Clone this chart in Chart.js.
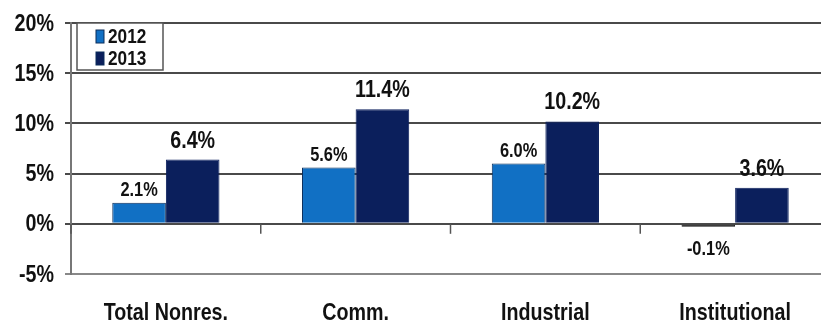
<!DOCTYPE html>
<html lang="en">
<head>
  <meta charset="UTF-8" />
  <title>Nonresidential Construction Growth</title>
  <script src="https://cdn.jsdelivr.net/npm/chart.js"></script>
  <style>
    html, body { margin: 0; padding: 0; background: #fff; overflow: hidden; }
    #wrap { width: 840px; height: 325px; }
  </style>
</head>
<body>
  <div id="wrap"><canvas id="growthChart" width="840" height="325"></canvas></div>

  <script>
    const categories = ["Total Nonres.", "Comm.", "Industrial", "Institutional"];
    const seriesNames = ["2012", "2013"];
    const values2012 = [2.1, 5.6, 6.0, -0.1];
    const values2013 = [6.4, 11.4, 10.2, 3.6];
    const yTicks = [-5, 0, 5, 10, 15, 20];

    const FONT = "'Liberation Sans', Arial, sans-serif";
    const LIGHT = "#1170c4";
    const NAVY = "#0b1f5c";
    const TEXT = "#111";

    // no narrow face installed, so squeeze the regular bold one
    function narrowText(ctx, txt, x, y, size, align, baseline) {
      ctx.save();
      ctx.font = "bold " + size + "px " + FONT;
      ctx.fillStyle = TEXT;
      ctx.textAlign = align;
      ctx.textBaseline = baseline;
      ctx.translate(x, y);
      ctx.scale(0.82, 1);
      ctx.fillText(txt, 0, 0);
      ctx.restore();
    }

    // axis labels for both scales
    const axisLabels = {
      id: "axisLabels",
      afterDraw(chart) {
        const x = chart.scales.x, y = chart.scales.y;
        y.ticks.forEach(t => {
          narrowText(chart.ctx, t.value + "%", 54, y.getPixelForValue(t.value) + 1, 24, "right", "middle");
        });
        categories.forEach((c, i) => {
          narrowText(chart.ctx, c, x.getPixelForValue(i), 320, 24, "center", "alphabetic");
        });
      }
    };

    // value labels above (or below, when negative) each bar
    const valueLabels = {
      id: "valueLabels",
      afterDatasetsDraw(chart) {
        chart.data.datasets.forEach((ds, di) => {
          const meta = chart.getDatasetMeta(di);
          const size = di === 0 ? 20 : 24;
          const gap = di === 0 ? 7 : 12;
          meta.data.forEach((bar, i) => {
            const v = ds.data[i];
            const txt = v.toFixed(1) + "%";
            if (v >= 0) {
              narrowText(chart.ctx, txt, bar.x, bar.y - gap, size, "center", "alphabetic");
            } else {
              narrowText(chart.ctx, txt, bar.x, bar.base + 15, size, "center", "top");
            }
          });
        });
      }
    };

    // small tick marks on the zero line between categories
    const zeroTicks = {
      id: "zeroTicks",
      afterDraw(chart) {
        const x = chart.scales.x, y = chart.scales.y;
        const y0 = y.getPixelForValue(0);
        const ctx = chart.ctx;
        ctx.save();
        ctx.strokeStyle = "#555";
        ctx.lineWidth = 1.5;
        for (let i = 0; i < categories.length; i++) {
          const px = i === 0 ? chart.chartArea.left : (x.getPixelForValue(i - 1) + x.getPixelForValue(i)) / 2;
          ctx.beginPath();
          ctx.moveTo(px, y0);
          ctx.lineTo(px, y0 + 10);
          ctx.stroke();
        }
        ctx.restore();
      }
    };

    // boxed legend in the upper left corner of the plot
    const boxLegend = {
      id: "boxLegend",
      afterDraw(chart) {
        const ctx = chart.ctx;
        const left = chart.chartArea.left + 6, top = chart.chartArea.top;
        ctx.save();
        ctx.fillStyle = "#fff";
        ctx.fillRect(left, top, 86, 47);
        ctx.strokeStyle = "#555";
        ctx.lineWidth = 1.5;
        ctx.strokeRect(left, top, 86, 47);
        const colors = [LIGHT, NAVY];
        seriesNames.forEach((name, i) => {
          const cy = top + 13 + i * 22;
          ctx.fillStyle = colors[i];
          ctx.fillRect(left + 19, cy - 6, 8, 13);
          ctx.strokeStyle = "#0b2c5a";
          ctx.lineWidth = 1;
          ctx.strokeRect(left + 19, cy - 6, 8, 13);
          narrowText(ctx, name, left + 31, cy + 1, 21, "left", "middle");
        });
        ctx.restore();
      }
    };

    new Chart(document.getElementById("growthChart"), {
      type: "bar",
      data: {
        labels: categories,
        datasets: [
          {
            label: seriesNames[0],
            data: values2012,
            backgroundColor: c => c.raw < 0 ? "#111" : LIGHT,
            borderColor: c => c.raw < 0 ? "#111" : "#0b2c5a",
            borderWidth: 1,
            minBarLength: 3,
            categoryPercentage: 0.565,
            barPercentage: 1
          },
          { label: seriesNames[1], data: values2013, backgroundColor: NAVY, borderColor: NAVY, borderWidth: 1, categoryPercentage: 0.565, barPercentage: 1 }
        ]
      },
      options: {
        responsive: false,
        animation: false,
        layout: { padding: { top: 23, right: 10, bottom: 0, left: 0 } },
        plugins: { legend: { display: false }, tooltip: { enabled: false } },
        scales: {
          x: {
            grid: { display: false },
            border: { display: false },
            ticks: { display: false },
            afterFit: s => { s.height = 51; }
          },
          y: {
            min: -5,
            max: 20,
            afterBuildTicks: s => { s.ticks = yTicks.map(v => ({ value: v })); },
            grid: {
              color: c => c.tick && c.tick.value === -5 ? "#888" : "#4a4a4a",
              lineWidth: 2,
              tickLength: 6
            },
            border: { color: "#777", width: 2 },
            ticks: { display: false },
            afterFit: s => { s.width = 71; }
          }
        }
      },
      plugins: [axisLabels, valueLabels, zeroTicks, boxLegend]
    });
  </script>
</body>
</html>
